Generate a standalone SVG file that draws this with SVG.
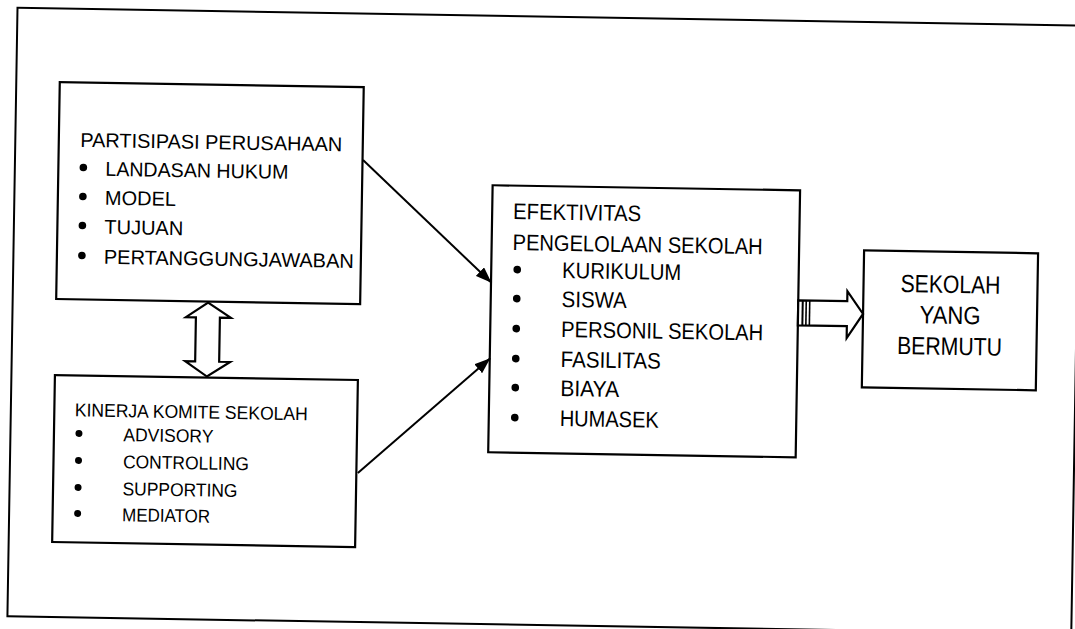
<svg xmlns="http://www.w3.org/2000/svg" width="1075" height="629" viewBox="0 0 1075 629">
<style>
.box{fill:#fff;stroke:#000;stroke-width:2.2}
.frame{fill:none;stroke:#000;stroke-width:2}
text{font-family:"Liberation Sans",Arial,sans-serif;fill:#000}
.t1{font-size:20px}
.t2{font-size:18.5px}
.t3{font-size:22.5px}
.t4{font-size:25px}
.b{fill:#000}
.conn{stroke:#000;stroke-width:2;fill:none}
.blk{fill:#fff;stroke:#000;stroke-width:2.2;stroke-linejoin:miter}
</style>
<defs>
<marker id="ah" markerUnits="userSpaceOnUse" markerWidth="17" markerHeight="12" refX="16" refY="6" orient="auto">
<path d="M0,0 L16,6 L0,12 z" fill="#000"/>
</marker>
</defs>
<rect width="1075" height="629" fill="#fff"/>
<g transform="rotate(0.95 537 314)">
<rect class="frame" x="12.5" y="16.5" width="1064" height="608.5"/>
<g id="node-partisipasi">
<rect class="box" x="56" y="90" width="304" height="217"/>
<text class="t1" x="77.5" y="154.5" textLength="262" lengthAdjust="spacingAndGlyphs">PARTISIPASI PERUSAHAAN</text>
<circle class="b" cx="81" cy="175" r="3.8"/><text class="t1" x="103" y="183" textLength="183" lengthAdjust="spacingAndGlyphs">LANDASAN HUKUM</text>
<circle class="b" cx="81" cy="204" r="3.8"/><text class="t1" x="103" y="212">MODEL</text>
<circle class="b" cx="81" cy="233" r="3.8"/><text class="t1" x="103" y="241">TUJUAN</text>
<circle class="b" cx="81" cy="263" r="3.8"/><text class="t1" x="103" y="271" textLength="250" lengthAdjust="spacingAndGlyphs">PERTANGGUNGJAWABAN</text>
</g>
<g id="node-kinerja">
<rect class="box" x="56" y="383" width="303" height="167"/>
<text class="t2" x="76.5" y="424" textLength="233" lengthAdjust="spacingAndGlyphs">KINERJA KOMITE SEKOLAH</text>
<circle class="b" cx="81" cy="441" r="3.5"/><text class="t2" x="125.5" y="448" textLength="90" lengthAdjust="spacingAndGlyphs">ADVISORY</text>
<circle class="b" cx="81" cy="468" r="3.5"/><text class="t2" x="125.5" y="475" textLength="126" lengthAdjust="spacingAndGlyphs">CONTROLLING</text>
<circle class="b" cx="81" cy="495" r="3.5"/><text class="t2" x="125.5" y="502" textLength="115" lengthAdjust="spacingAndGlyphs">SUPPORTING</text>
<circle class="b" cx="81" cy="521" r="3.5"/><text class="t2" x="125.5" y="528" textLength="88" lengthAdjust="spacingAndGlyphs">MEDIATOR</text>
</g>
<g id="node-efektivitas">
<rect class="box" x="490.5" y="186" width="307.5" height="267"/>
<text class="t3" x="511.5" y="219.5" textLength="128" lengthAdjust="spacingAndGlyphs">EFEKTIVITAS</text>
<text class="t3" x="511.5" y="250.5" textLength="250" lengthAdjust="spacingAndGlyphs">PENGELOLAAN SEKOLAH</text>
<circle class="b" cx="516.5" cy="270" r="3.8"/><text class="t3" x="561.5" y="277.6" textLength="119" lengthAdjust="spacingAndGlyphs">KURIKULUM</text>
<circle class="b" cx="516.5" cy="299" r="3.8"/><text class="t3" x="561.5" y="306.6" textLength="65" lengthAdjust="spacingAndGlyphs">SISWA</text>
<circle class="b" cx="516.5" cy="329" r="3.8"/><text class="t3" x="561.5" y="336.6" textLength="202" lengthAdjust="spacingAndGlyphs">PERSONIL SEKOLAH</text>
<circle class="b" cx="516.5" cy="359" r="3.8"/><text class="t3" x="561.5" y="366.6" textLength="100" lengthAdjust="spacingAndGlyphs">FASILITAS</text>
<circle class="b" cx="516.5" cy="388" r="3.8"/><text class="t3" x="561.5" y="395.6" textLength="59" lengthAdjust="spacingAndGlyphs">BIAYA</text>
<circle class="b" cx="516.5" cy="418" r="3.8"/><text class="t3" x="561.5" y="425.6" textLength="99" lengthAdjust="spacingAndGlyphs">HUMASEK</text>
</g>
<g id="node-bermutu">
<rect class="box" x="863" y="245" width="174" height="137"/>
<text class="t4" x="950" y="286" text-anchor="middle" textLength="100" lengthAdjust="spacingAndGlyphs">SEKOLAH</text>
<text class="t4" x="950" y="317" text-anchor="middle" textLength="61" lengthAdjust="spacingAndGlyphs">YANG</text>
<text class="t4" x="950" y="348" text-anchor="middle" textLength="105" lengthAdjust="spacingAndGlyphs">BERMUTU</text>
</g>
<g id="connectors">
<polygon class="blk" points="208,308 231,323 220,323 220,367 231,367 208,382 186,367 196,367 196,323 186,323"/>
<line class="conn" x1="360.5" y1="163" x2="491" y2="283.5" marker-end="url(#ah)"/>
<line class="conn" x1="360.5" y1="476" x2="491" y2="359" marker-end="url(#ah)"/>
<polygon class="blk" points="798,296 847,296 847,286 863,308.5 847,333 847,321 798,321"/>
<line stroke="#000" stroke-width="2" x1="802.5" y1="296" x2="802.5" y2="321"/>
<line stroke="#000" stroke-width="1.6" x1="806" y1="296" x2="806" y2="321"/>
<line stroke="#000" stroke-width="1.6" x1="809.5" y1="296" x2="809.5" y2="321"/>
</g>
</g>
</svg>
